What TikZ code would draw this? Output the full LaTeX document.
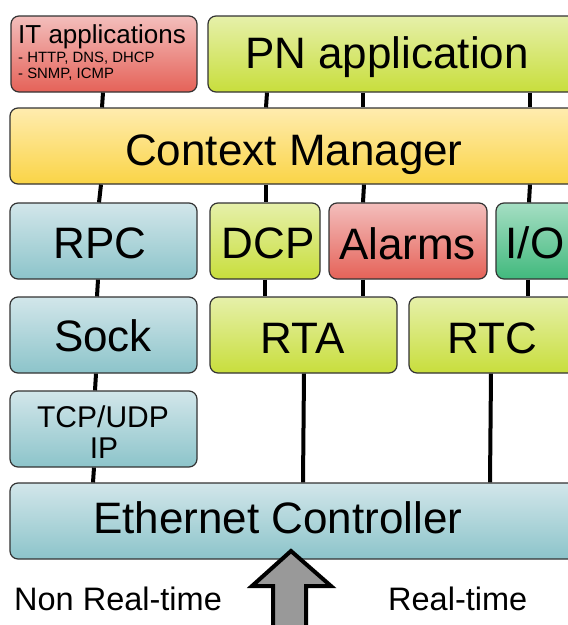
\documentclass[tikz,border=0pt]{standalone}
\usepackage{fontspec}
\setmainfont{Liberation Sans}
\definecolor{redtop}{HTML}{F3BEBC}
\definecolor{redbot}{HTML}{E56258}
\definecolor{limetop}{HTML}{E6F0AA}
\definecolor{limebot}{HTML}{C8DE3C}
\definecolor{yeltop}{HTML}{FFECAF}
\definecolor{yelbot}{HTML}{FAD446}
\definecolor{bluetop}{HTML}{D2E6EA}
\definecolor{bluebot}{HTML}{8CC4CA}
\definecolor{greentop}{HTML}{A5DEC3}
\definecolor{greenbot}{HTML}{41B97D}
\definecolor{edge}{HTML}{333333}
\tikzset{
  layer/.style={draw=edge, line width=1.2pt, rounded corners=8pt,
    inner sep=0pt, minimum height=76pt},
  redbox/.style={layer, top color=redtop, bottom color=redbot},
  limebox/.style={layer, top color=limetop, bottom color=limebot},
  yelbox/.style={layer, top color=yeltop, bottom color=yelbot},
  bluebox/.style={layer, top color=bluetop, bottom color=bluebot},
  greenbox/.style={layer, top color=greentop, bottom color=greenbot},
  big/.style={inner sep=0pt, font=\fontsize{44}{44}\selectfont},
  label/.style={inner sep=0pt, font=\fontsize{#1}{#1}\selectfont},
  link/.style={line width=4pt, black},
}
\begin{document}
\begin{tikzpicture}[x=1pt, y=-1pt]
\useasboundingbox (0,0) rectangle (568,625);
\clip (0,0) rectangle (568,625);

% protocol layers
\node[redbox,   minimum width=186pt] (it)     at (104,54)    {};
\node[limebox,  minimum width=382pt] (pn)     at (399,54)    {};
\node[yelbox,   minimum width=580pt] (cm)     at (300,146)   {};
\node[bluebox,  minimum width=187pt] (rpc)    at (103.5,241) {};
\node[limebox,  minimum width=110pt] (dcp)    at (265,241)   {};
\node[redbox,   minimum width=158pt] (alarms) at (408,241)   {};
\node[greenbox, minimum width=94pt]  (io)     at (543,241)   {};
\node[bluebox,  minimum width=187pt] (sock)   at (103.5,335) {};
\node[limebox,  minimum width=187pt] (rta)    at (303.5,335) {};
\node[limebox,  minimum width=181pt] (rtc)    at (499.5,335) {};
\node[bluebox,  minimum width=187pt] (tcp)    at (103.5,429) {};
\node[bluebox,  minimum width=580pt] (eth)    at (300,521)   {};

% connectors between layers
\draw[link] (103,0 |- it.south)     -- (102,0 |- cm.north);
\draw[link] (267,0 |- pn.south)     -- (266,0 |- cm.north);
\draw[link] (363,0 |- pn.south)     -- (363,0 |- cm.north);
\draw[link] (530,0 |- pn.south)     -- (530,0 |- cm.north);
\draw[link] (101,0 |- cm.south)     -- (99,0 |- rpc.north);
\draw[link] (266,0 |- cm.south)     -- (266,0 |- dcp.north);
\draw[link] (364,0 |- cm.south)     -- (363,0 |- alarms.north);
\draw[link] (530,0 |- cm.south)     -- (529,0 |- io.north);
\draw[link] (98,0 |- rpc.south)     -- (97,0 |- sock.north);
\draw[link] (265,0 |- dcp.south)    -- (265,0 |- rta.north);
\draw[link] (363,0 |- alarms.south) -- (363,0 |- rta.north);
\draw[link] (528,0 |- io.south)     -- (528,0 |- rtc.north);
\draw[link] (96,0 |- sock.south)    -- (95,0 |- tcp.north);
\draw[link] (94,0 |- tcp.south)     -- (93,0 |- eth.north);
\draw[link] (304,0 |- rta.south)    -- (303,0 |- eth.north);
\draw[link] (491,0 |- rtc.south)    -- (490,0 |- eth.north);

% layer names
\node[label=26, anchor=base west]   (it-t) at (18,43) {IT applications};
\node[label=14.9, anchor=base west] (it-a) at (18,62) {- HTTP, DNS, DHCP};
\node[label=14.9, anchor=base west] (it-b) at (18,78) {- SNMP, ICMP};
\node[big, anchor=base west] (pn-t)     at (245,68)    {PN application};
\node[big, anchor=base west] (cm-t)     at (125,165)   {Context Manager};
\node[big, anchor=base]      (rpc-t)    at (100,258)   {RPC};
\node[big, anchor=base]      (dcp-t)    at (268,258)   {DCP};
\node[big, anchor=base]      (alarms-t) at (407.5,259) {Alarms};
\node[big, anchor=base]      (io-t)     at (535,258)   {I/O};
\node[big, anchor=base]      (sock-t)   at (103,351)   {Sock};
\node[big, anchor=base]      (rta-t)    at (302.5,353) {RTA};
\node[big, anchor=base]      (rtc-t)    at (492,353)   {RTC};
\node[label=30, anchor=base] (tcp-a)    at (103,427)   {TCP/UDP};
\node[label=30, anchor=base] (tcp-b)    at (104,458)   {IP};
\node[big, anchor=base west] (eth-t)    at (93,533)    {Ethernet Controller};
\node[label=32.5, anchor=base west] (nrt) at (14,610)  {Non Real-time};
\node[label=32.5, anchor=base west] (rt)  at (388,610) {Real-time};

% incoming traffic arrow
\coordinate (tip) at (291,551);
\draw[line width=4pt, fill=black!40, line join=miter, miter limit=10]
  (273,640) -- (273,586) -- (252,586) -- (tip) -- (331,586) -- (306,586) -- (306,640);
\end{tikzpicture}
\end{document}
